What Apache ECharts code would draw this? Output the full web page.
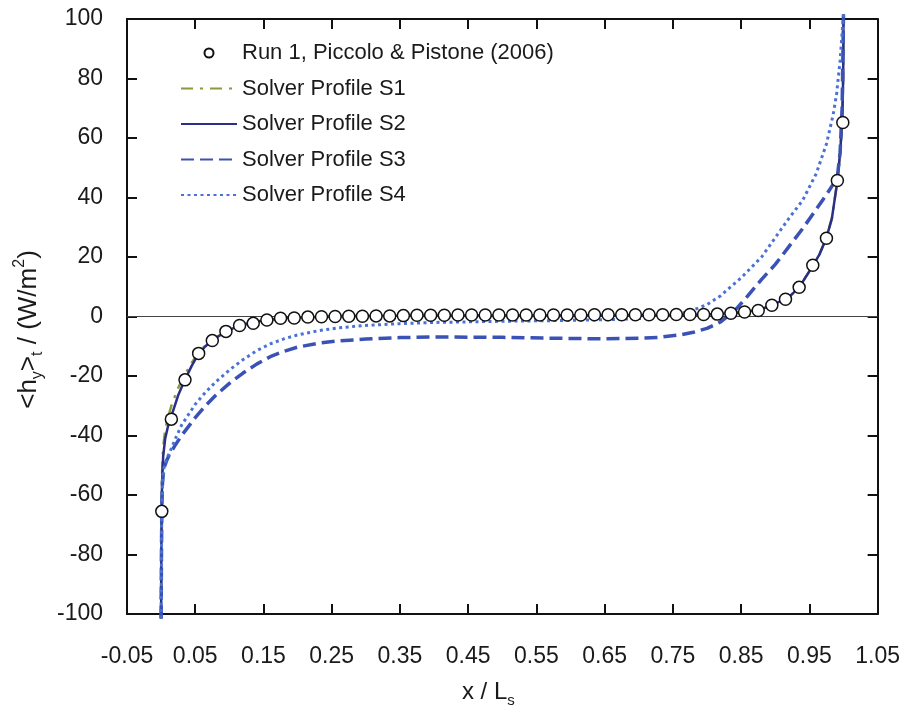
<!DOCTYPE html>
<html>
<head>
<meta charset="utf-8">
<title>Heat flux profiles</title>
<script src="https://cdn.jsdelivr.net/npm/echarts@6/dist/echarts.min.js"></script>
<style>
  html, body { margin: 0; padding: 0; background: #fff; }
  #chart { width: 903px; height: 713px; }
</style>
</head>
<body>
<div id="chart"></div>
<script>
// Experimental points (Run 1, Piccolo & Pistone 2006)
const runX = [0.001, 0.015, 0.035, 0.055, 0.075, 0.095, 0.115, 0.135, 0.155, 0.175,
  0.195, 0.215, 0.235, 0.255, 0.275, 0.295, 0.315, 0.335, 0.355, 0.375,
  0.395, 0.415, 0.435, 0.455, 0.475, 0.495, 0.515, 0.535, 0.555, 0.575,
  0.595, 0.615, 0.635, 0.655, 0.675, 0.695, 0.715, 0.735, 0.755, 0.775,
  0.795, 0.815, 0.835, 0.855, 0.875, 0.895, 0.915, 0.935, 0.955, 0.975,
  0.991, 0.999];
const runY = [-65.5, -34.5, -21.3, -12.4, -8.1, -5.0, -3.0, -2.3, -1.2, -0.6,
  -0.5, -0.2, -0.1, 0.0, 0.1, 0.1, 0.2, 0.2, 0.3, 0.4,
  0.4, 0.4, 0.5, 0.5, 0.5, 0.5, 0.5, 0.5, 0.5, 0.5,
  0.5, 0.5, 0.6, 0.6, 0.6, 0.6, 0.6, 0.6, 0.7, 0.7,
  0.7, 0.8, 1.1, 1.5, 2.0, 3.8, 5.8, 9.8, 17.2, 26.3,
  45.7, 65.2];

// Solver profile S2 (solid)
const s2X = [0, 0.0003, 0.0008, 0.0015, 0.003, 0.006, 0.01, 0.015, 0.025, 0.035,
  0.045, 0.055, 0.065, 0.075, 0.09, 0.105, 0.12, 0.14, 0.16, 0.18,
  0.2, 0.25, 0.3, 0.4, 0.5, 0.6, 0.7, 0.75, 0.8, 0.82,
  0.84, 0.86, 0.88, 0.9, 0.92, 0.935, 0.955, 0.965, 0.975, 0.983,
  0.991, 0.995, 0.998, 0.9995, 1.0];
const s2Y = [-101.5, -80, -65, -55, -47, -41, -37, -33.5, -26.5, -21.2,
  -16.5, -12.5, -10, -8, -5.8, -4, -2.8, -1.7, -1.0, -0.6,
  -0.3, 0, 0.2, 0.3, 0.35, 0.4, 0.5, 0.55, 0.7, 0.9,
  1.2, 1.7, 2.5, 4.3, 6.5, 9.8, 17, 21, 26.5, 33,
  45.5, 55, 65, 80, 101.5];

// Solver profile S1 (dash-dot), close to S2 except near x = 0
const s1X = [0, 0.0003, 0.0008, 0.0015, 0.003, 0.006, 0.01, 0.015, 0.025, 0.035,
  0.045, 0.055, 0.065, 0.075, 0.09, 0.105, 0.12, 0.14, 0.16, 0.18,
  0.2, 0.25, 0.3, 0.4, 0.5, 0.6, 0.7, 0.75, 0.8, 0.82,
  0.84, 0.86, 0.88, 0.9, 0.92, 0.935, 0.955, 0.965, 0.975, 0.983,
  0.991, 0.995, 0.998, 0.9995, 1.0];
const s1Y = [-101.5, -78, -62, -52, -44, -38, -34, -30, -24, -19.5,
  -15.5, -12, -9.7, -7.8, -5.7, -4, -2.8, -1.7, -1.0, -0.6,
  -0.3, 0, 0.2, 0.3, 0.35, 0.4, 0.5, 0.55, 0.7, 0.9,
  1.2, 1.7, 2.5, 4.3, 6.5, 9.8, 17, 21, 26.5, 33,
  45.5, 55, 65, 80, 101.5];

// Solver profile S3 (dashed)
const s3X = [0, 0.0005, 0.001, 0.002, 0.004, 0.008, 0.012, 0.02, 0.03, 0.04,
  0.05, 0.065, 0.08, 0.1, 0.12, 0.14, 0.16, 0.18, 0.2, 0.23,
  0.26, 0.3, 0.35, 0.4, 0.5, 0.6, 0.65, 0.7, 0.73, 0.76,
  0.78, 0.8, 0.82, 0.84, 0.86, 0.88, 0.9, 0.92, 0.94, 0.96,
  0.975, 0.985, 0.991, 0.995, 0.998, 1.0];
const s3Y = [-101.5, -80, -65, -56, -51, -48.5, -46.5, -43.5, -40, -37,
  -34, -30, -26.5, -22.5, -19, -16, -13.5, -11.7, -10.3, -9,
  -8.2, -7.6, -7.1, -6.9, -7.0, -7.4, -7.5, -7.3, -7.0, -6.2,
  -5.3, -4.0, -1.8, 1.8, 7.0, 12.5, 17.5, 23.5, 29.5, 36,
  41, 44.5, 47, 55, 70, 101.5];

// Solver profile S4 (dotted)
const s4X = [0, 0.0005, 0.001, 0.002, 0.004, 0.008, 0.012, 0.02, 0.03, 0.04,
  0.05, 0.065, 0.08, 0.1, 0.12, 0.14, 0.16, 0.18, 0.2, 0.23,
  0.26, 0.3, 0.35, 0.4, 0.5, 0.6, 0.65, 0.7, 0.73, 0.76,
  0.78, 0.8, 0.82, 0.85, 0.88, 0.9, 0.92, 0.94, 0.96, 0.975,
  0.985, 0.99, 0.995, 1.0];
const s4Y = [-101.5, -80, -65, -56, -51, -48, -46, -41.5, -36.5, -33,
  -29.5, -25.5, -22, -18, -14.5, -11.5, -9.2, -7.5, -6.2, -4.8,
  -3.8, -3.0, -2.4, -2.0, -1.6, -1.3, -1.1, -0.7, -0.1, 0.9,
  2.2, 4.0, 7.0, 13, 20, 26.5, 33, 39, 48, 58,
  68, 75, 86, 101.5];

// Axis tick values
const xTicks = { min: -0.05, max: 1.05, step: 0.1 };
const yTicks = { min: -100, max: 100, step: 20 };

const pairs = (xs, ys) => xs.map((x, i) => [x, ys[i]]);

const FONT = 'Liberation Sans, Arial, Helvetica, sans-serif';
const INK = '#1a1a1a';
const frame = { lineStyle: { color: '#111', width: 2 } };
const tick = { show: true, inside: true, length: 10, lineStyle: { color: '#111', width: 2 } };
const hiddenSymbol = { opacity: 0 };

const chart = echarts.init(document.getElementById('chart'), null, { renderer: 'canvas' });

chart.setOption({
  backgroundColor: '#fff',
  animation: false,
  grid: { left: 127, top: 19, width: 751, height: 597, containLabel: false },
  legend: {
    orient: 'vertical',
    left: 180,
    top: 41,
    padding: 0,
    itemWidth: 56,
    itemHeight: 9,
    itemGap: 11.5,
    textStyle: { fontFamily: FONT, fontSize: 22, color: INK, lineHeight: 24 },
    data: [
      { name: 'Run 1, Piccolo & Pistone (2006)' },
      { name: 'Solver Profile S1', itemStyle: hiddenSymbol },
      { name: 'Solver Profile S2', itemStyle: hiddenSymbol },
      { name: 'Solver Profile S3', itemStyle: hiddenSymbol },
      { name: 'Solver Profile S4', itemStyle: hiddenSymbol }
    ]
  },
  xAxis: [{
    type: 'value',
    min: xTicks.min, max: xTicks.max, interval: xTicks.step,
    position: 'bottom',
    axisLine: { onZero: false, ...frame },
    axisTick: tick,
    splitLine: { show: false },
    axisLabel: {
      margin: 31, fontFamily: FONT, fontSize: 23, color: INK,
      formatter: v => v.toFixed(2)
    },
    name: '{m|x / L}{sub|s}',
    nameLocation: 'middle',
    nameGap: 62,
    nameTextStyle: {
      fontFamily: FONT, color: INK, padding: [0, 28, 0, 0],
      rich: {
        m: { fontFamily: FONT, fontSize: 24, lineHeight: 32, color: INK },
        sub: { fontFamily: FONT, fontSize: 15, lineHeight: 15, verticalAlign: 'bottom', color: INK }
      }
    }
  }, {
    type: 'value',
    min: xTicks.min, max: xTicks.max, interval: xTicks.step,
    position: 'top',
    axisLine: { onZero: false, ...frame },
    axisTick: tick,
    axisLabel: { show: false },
    splitLine: { show: false }
  }],
  yAxis: [{
    type: 'value',
    min: yTicks.min, max: yTicks.max, interval: yTicks.step,
    position: 'left',
    axisLine: { show: true, onZero: false, ...frame },
    axisTick: tick,
    splitLine: { show: false },
    axisLabel: { margin: 24, fontFamily: FONT, fontSize: 23, color: INK },
    name: '{m|<h}{sub|y}{m|>}{sub|t}{m| / (W/m}{sup|2}{m|)}',
    nameLocation: 'middle',
    nameGap: 67,
    nameTextStyle: {
      fontFamily: FONT, color: INK, padding: [0, 26, 0, 0],
      rich: {
        m: { fontFamily: FONT, fontSize: 26, lineHeight: 34, color: INK },
        sub: { fontFamily: FONT, fontSize: 16, lineHeight: 16, verticalAlign: 'bottom', color: INK },
        sup: { fontFamily: FONT, fontSize: 16, lineHeight: 16, verticalAlign: 'top', color: INK }
      }
    }
  }, {
    type: 'value',
    min: yTicks.min, max: yTicks.max, interval: yTicks.step,
    position: 'right',
    axisLine: { show: true, onZero: false, ...frame },
    axisTick: tick,
    axisLabel: { show: false },
    splitLine: { show: false }
  }],
  series: [
    {
      name: 'Solver Profile S1', type: 'line', data: pairs(s1X, s1Y),
      showSymbol: false, symbol: 'none', clip: false, z: 2,
      lineStyle: { color: '#8a9a3c', width: 2.5, type: [12, 7, 3, 7] },
      itemStyle: { color: '#8a9a3c' },
      markLine: {
        silent: true, symbol: 'none', label: { show: false },
        lineStyle: { color: '#444', width: 1, type: 'solid' },
        data: [{ yAxis: 0 }]
      }
    },
    {
      name: 'Solver Profile S2', type: 'line', data: pairs(s2X, s2Y),
      showSymbol: false, symbol: 'none', clip: false, z: 3,
      lineStyle: { color: '#2b2f86', width: 2.5, type: 'solid' },
      itemStyle: { color: '#2b2f86' }
    },
    {
      name: 'Solver Profile S3', type: 'line', data: pairs(s3X, s3Y),
      showSymbol: false, symbol: 'none', clip: false, z: 4,
      lineStyle: { color: '#3a52b5', width: 3.5, type: [13, 6] },
      itemStyle: { color: '#3a52b5' }
    },
    {
      name: 'Solver Profile S4', type: 'line', data: pairs(s4X, s4Y),
      showSymbol: false, symbol: 'none', clip: false, z: 5,
      lineStyle: { color: '#4a72d4', width: 3, type: [3, 3.5] },
      itemStyle: { color: '#4a72d4' }
    },
    {
      name: 'Run 1, Piccolo & Pistone (2006)', type: 'scatter', data: pairs(runX, runY),
      symbol: 'circle', symbolSize: 12, z: 10,
      itemStyle: { color: '#fff', borderColor: '#111', borderWidth: 1.5, opacity: 1 }
    }
  ]
});
</script>
</body>
</html>
